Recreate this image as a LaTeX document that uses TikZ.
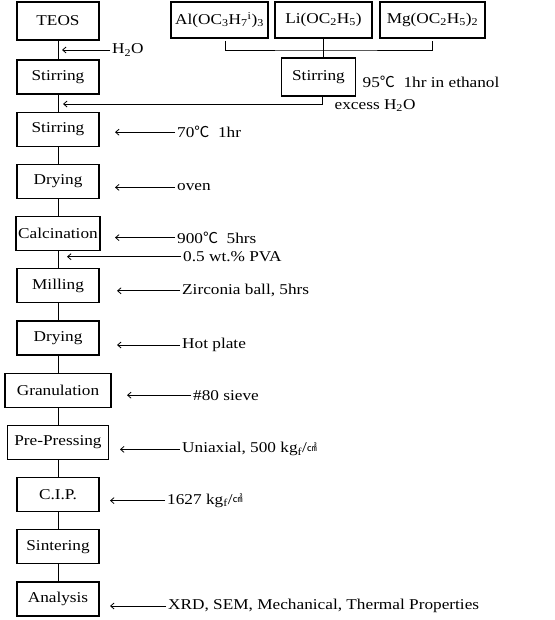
\documentclass[tikz,border=0pt]{standalone}
\usepackage{fontspec}
\setmainfont[FakeStretch=1.15]{Liberation Serif}
\newfontfamily\cjkfont{Noto Sans CJK KR}
\usetikzlibrary{arrows.meta,positioning,calc}
\newcommand{\degc}{{\cjkfont ℃}}
\newcommand{\sqcm}{\raisebox{1.5pt}{\cjkfont\fontsize{10}{10}\selectfont ㎠}}
\tikzset{
  flowarr/.style={-{Straight Barb[length=3.5pt,width=6pt]}, line width=0.8pt},
  flowline/.style={line width=0.9pt},
  flowbox/.style={draw, line width=1.2pt, outer sep=0pt, minimum width=82pt, minimum height=34pt, inner sep=2pt, align=center},
  flownote/.style={inner sep=2pt},
}

\begin{document}
\begin{tikzpicture}[x=1pt, y=-1pt, font=\fontsize{15}{18}\selectfont]
  \useasboundingbox (0,0) rectangle (554,620);
  % starting materials
  \node[flowbox, minimum height=38pt] (teos) at (58,21) {TEOS};
  \node[flowbox, minimum width=97pt, minimum height=36pt] (al) at (219.5,20) {Al(OC\textsubscript{3}H\textsubscript{7}\textsuperscript{i})\textsubscript{3}};
  \node[flowbox, minimum width=97pt, minimum height=36pt, right=7pt of al] (li) {Li(OC\textsubscript{2}H\textsubscript{5})};
  \node[flowbox, minimum width=105pt, minimum height=36pt, right=8pt of li] (mg) {Mg(OC\textsubscript{2}H\textsubscript{5})\textsubscript{2}};
  % main process column
  \node[flowbox, below=20pt of teos] (stir1) {Stirring};
  \node[flowbox, below=18.2pt of stir1] (stir2) {Stirring};
  \node[flowbox, below=18.2pt of stir2] (dry1) {Drying};
  \node[flowbox, minimum width=84pt, below=18.2pt of dry1] (calc) {Calcination};
  \node[flowbox, below=18.2pt of calc] (mill) {Milling};
  \node[flowbox, below=18.2pt of mill] (dry2) {Drying};
  \node[flowbox, minimum width=106pt, below=18.2pt of dry2] (gran) {Granulation};
  \node[flowbox, minimum width=101pt, below=18.2pt of gran] (pres) {Pre-Pressing};
  \node[flowbox, below=18.2pt of pres] (cip) {C.I.P.};
  \node[flowbox, below=18.2pt of cip] (sint) {Sintering};
  \node[flowbox, below=18.2pt of sint] (anal) {Analysis};
  \foreach \a/\b in {teos/stir1, stir1/stir2, stir2/dry1, dry1/calc, calc/mill, mill/dry2, dry2/gran, gran/pres, pres/cip, cip/sint, sint/anal}
    \draw[flowline] (\a) -- (\b);
  % alkoxide branch
  \coordinate (brk) at ([yshift=-12pt]li.south);
  \draw[flowline, shorten <=3pt, shorten >=3pt] ([xshift=6pt]al.south) |- (brk) -| (mg.south);
  \node[flowbox, minimum width=74pt, minimum height=38pt, below=20pt of li, xshift=-5pt] (stir0) {Stirring};
  \draw[flowline] (li.south) -- (li.south |- stir0.north);
  \node[flownote, right=5pt of stir0, yshift=-5pt] (n95) {95\degc\ \ 1hr in ethanol};
  \coordinate (mexcess) at ($(stir1.south)!0.55!(stir2.north)$);
  \draw[flowarr, shorten >=5pt] ([xshift=4pt]stir0.south) |- (mexcess);
  \node[flownote, anchor=north west] (nexc) at ([xshift=14pt, yshift=-1pt]stir0.south) {excess H\textsubscript{2}O};
  % water into TEOS
  \coordinate (mwater) at ($(teos.south)!0.5!(stir1.north)$);
  \node[flownote, right=52pt of mwater] (nwater) {H\textsubscript{2}O};
  \draw[flowarr, shorten >=4pt] (nwater.west) -- (mwater);
  % process conditions
  \node[flownote, right=76pt of stir2, yshift=-3pt] (n70) {70\degc\ \ 1hr};
  \draw[flowarr, shorten >=16pt] (n70.west) -- (n70.west -| stir2.east);
  \node[flownote, right=76pt of dry1, yshift=-6pt] (noven) {oven};
  \draw[flowarr, shorten >=16pt] (noven.west) -- (noven.west -| dry1.east);
  \node[flownote, right=75pt of calc, yshift=-4pt] (n900) {900\degc\ \ 5hrs};
  \draw[flowarr, shorten >=15pt] (n900.west) -- (n900.west -| calc.east);
  \coordinate (mpva) at ($(calc.south)!0.5!(mill.north)$);
  \node[flownote, right=123pt of mpva, yshift=3pt] (npva) {0.5 wt.\% PVA};
  \draw[flowarr, shorten >=9pt] (npva.west) -- (npva.west -| mpva);
  \node[flownote, right=81pt of mill, yshift=-5pt] (nball) {Zirconia ball, 5hrs};
  \draw[flowarr, shorten >=18pt] (nball.west) -- (nball.west -| mill.east);
  \node[flownote, right=81pt of dry2, yshift=-7pt] (nplate) {Hot plate};
  \draw[flowarr, shorten >=18pt] (nplate.west) -- (nplate.west -| dry2.east);
  \node[flownote, right=80pt of gran, yshift=-5pt] (nsieve) {\#80 sieve};
  \draw[flowarr, shorten >=16pt] (nsieve.west) -- (nsieve.west -| gran.east);
  \node[flownote, right=71.5pt of pres, yshift=-7pt] (nuni) {Uniaxial, 500 kg\textsubscript{f}/\sqcm};
  \draw[flowarr, shorten >=11.5pt] (nuni.west) -- (nuni.west -| pres.east);
  \node[flownote, right=66pt of cip, yshift=-6pt] (ncip) {1627 kg\textsubscript{f}/\sqcm};
  \draw[flowarr, shorten >=11pt] (ncip.west) -- (ncip.west -| cip.east);
  \node[flownote, right=67pt of anal, yshift=-7pt] (nanal) {XRD, SEM, Mechanical, Thermal Properties};
  \draw[flowarr, shorten >=11pt] (nanal.west) -- (nanal.west -| anal.east);
\end{tikzpicture}
\end{document}
